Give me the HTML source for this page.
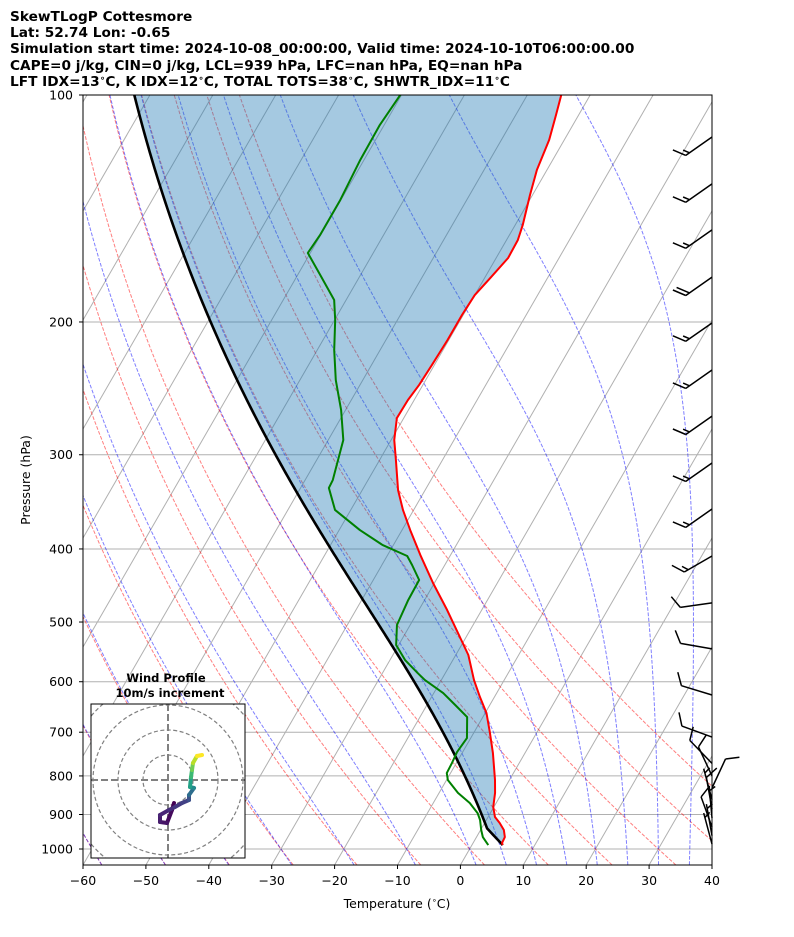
<!DOCTYPE html>
<html><head><meta charset="utf-8"><style>
body{margin:0;background:#fff;}
svg{display:block;font-family:"DejaVu Sans","Liberation Sans",sans-serif;}
</style></head><body>
<svg id="chart" width="794" height="937" viewBox="0 0 794 937" xmlns="http://www.w3.org/2000/svg">
<defs>
<clipPath id="plotclip"><rect x="83" y="95" width="629" height="770"/></clipPath>
<clipPath id="hodoclip"><rect x="91" y="704" width="154" height="154"/></clipPath>
</defs>
<rect width="794" height="937" fill="#fff"/>
<g font-weight="bold" font-size="13.7" fill="#000">
<text x="10" y="21">SkewTLogP Cottesmore</text>
<text x="10" y="37">Lat: 52.74   Lon: -0.65</text>
<text x="10" y="53">Simulation start time: 2024-10-08_00:00:00, Valid time: 2024-10-10T06:00:00.00</text>
<text x="10" y="70">CAPE=0 j/kg, CIN=0 j/kg, LCL=939 hPa, LFC=nan hPa, EQ=nan hPa</text>
<text x="10" y="86">LFT IDX=13<tspan font-size="9" dy="-5">∘</tspan><tspan dy="5">C, K IDX=12</tspan><tspan font-size="9" dy="-5">∘</tspan><tspan dy="5">C, TOTAL TOTS=38</tspan><tspan font-size="9" dy="-5">∘</tspan><tspan dy="5">C, SHWTR_IDX=11</tspan><tspan font-size="9" dy="-5">∘</tspan><tspan dy="5">C</tspan></text>
</g>
<g id="bg" clip-path="url(#plotclip)"></g>
<g id="fg" clip-path="url(#plotclip)"></g>
<rect x="83" y="95" width="629" height="770" fill="none" stroke="#000" stroke-width="1"/>
<g id="axes"></g>
<g id="barbs"></g>
<g id="hodo"></g>
<text x="30" y="480" font-size="12.5" text-anchor="middle" transform="rotate(-90 30 480)">Pressure (hPa)</text>
<text x="397" y="908" font-size="12.5" text-anchor="middle">Temperature (<tspan font-size="8" dy="-5">∘</tspan><tspan dy="5">C)</tspan></text>
</svg>
<script>
// ---- data ----
const tempP=[988,982,964.1,943.7,923.8,907,879.6,842.6,809.9,746,701.9,660.1,628.7,597,553,528.2,482,444,407.5,377.6,355.1,334.2,304.9,286.8,268.2,253.9,242.4,228.1,211.4,195.7,184.2,174.9,164.5,155.7,148.7,135.7,125.7,114.7,106.3,100];
const tempT=[4.9,4.6,4.5,3.7,2.4,1.1,-0.1,-1.1,-2.3,-5.1,-7.4,-9.8,-12.3,-14.8,-18.0,-20.5,-25.5,-30.2,-34.8,-38.7,-41.7,-44.3,-47.4,-49.5,-51.1,-51.0,-50.6,-50.4,-50.2,-50.2,-50.0,-49.1,-48.1,-48.2,-48.8,-50.4,-51.6,-52.4,-53.6,-54.6];
const dewP=[988,982,964.1,943.7,915.2,896.6,869,842.6,809.9,793,769.1,743.7,712.7,668.3,644.2,621.2,597,584.3,561.5,536.3,504.6,467.6,439.8,420.1,408.7,395.3,377.6,355.1,332,324.1,304.9,286.8,261.7,238.8,217.9,198.8,187,173.3,162,153.4,137.8,121.9,109.6,100];
const dewT=[2.6,2.2,1.0,0.1,-1.0,-2.0,-4.2,-7.0,-9.8,-10.6,-10.7,-10.9,-10.6,-12.5,-15.5,-18.5,-22.6,-24.4,-27.6,-30.4,-32.1,-32.6,-32.7,-35.2,-36.8,-41.7,-46.7,-52.5,-55.5,-55.6,-56.6,-57.6,-60.7,-64.3,-67.3,-69.9,-71.9,-76.4,-80.4,-80.1,-80.1,-80.6,-80.7,-80.2];
const parcelSurfP=988, parcelSurfT=4.9, lclP=939;
const pTicks=[100,200,300,400,500,600,700,800,900,1000];
const tTicks=[-60,-50,-40,-30,-20,-10,0,10,20,30,40];
const dryT0=[-60,-50,-40,-30,-20,-10,0,10,20,30,40,50];
const moistT0=[-60,-50,-40,-30,-20,-10,0,5,10,15,20,25,30,35];
const barbP=[113.7,131.2,151.0,174.4,200.6,231.6,266.6,307.7,354.1,408.7,471.7,542.8,624.9,710.5,770,800,830,860,885,910,935,960,985];
const barbDir=[235,235,235,235,235,235,235,235,235,240,262,280,287,290,316,335,25,345,350,355,340,350,345];
const barbSpd=[15,15,15,20,15,15,15,15,15,15,10,10,10,10,10,10,10,5,10,5,10,5,5];
const hodoU=[2.4,1.6,-0.4,-3.2,-3.2,0.4,2.8,5.6,8.4,8.4,10.4,8.8,9.2,9.6,10.0,11.6,13.6];
const hodoV=[-9.2,-12.0,-17.2,-16.8,-14.0,-12.0,-10.8,-9.2,-8.0,-6.0,-3.2,-2.8,1.2,4.0,6.8,9.6,10.0];

// ---- axis functions ----
const NS="http://www.w3.org/2000/svg";
const Y0=95,PX=754,BOT=865,X0=460.4,SX=6.29,SK=0.577;
function Y(p){return Y0+PX*Math.log10(p/100);}
function X(T,p){return X0+SX*T+SK*(BOT-Y(p));}
function mk(tag,attrs,parent){const e=document.createElementNS(NS,tag);for(const k in attrs)e.setAttribute(k,attrs[k]);parent.appendChild(e);return e;}
function path(pts){return pts.map((q,i)=>(i?'L':'M')+q[0].toFixed(2)+' '+q[1].toFixed(2)).join('');}
function moistDT(p,T){const Tc=T-273.15;const es=6.112*Math.exp(17.67*Tc/(Tc+243.5));const rs=0.622*es/(p-es);
 const Rd=287.04,Cp=1005.7,Lv=2.501e6,eps=0.622;return (Rd*T+Lv*rs)/(Cp+Lv*Lv*rs*eps/(Rd*T*T))/p;}
function moist(p0,T0K,p1,step){const out=[[p0,T0K]];let p=p0,T=T0K;
 while(Math.abs(p1-p)>1e-9){let h=(p1<p0?-step:step);if(Math.abs(p1-p)<step)h=p1-p;
 const k1=moistDT(p,T),k2=moistDT(p+h/2,T+h/2*k1),k3=moistDT(p+h/2,T+h/2*k2),k4=moistDT(p+h,T+h*k3);
 T+=h/6*(k1+2*k2+2*k3+k4);p+=h;out.push([p,T]);}return out;}

const bg=document.getElementById('bg'),fg=document.getElementById('fg'),ax=document.getElementById('axes');
pTicks.forEach(p=>{const l=mk('line',{x1:83,x2:712,y1:Y(p),y2:Y(p),stroke:'#b0b0b0','stroke-width':1},bg);

});
for(let T=-170;T<=40;T+=10){const l=mk('line',{x1:X0+SX*T,y1:BOT,x2:X0+SX*T+SK*(BOT-Y0),y2:Y0,stroke:'#b0b0b0','stroke-width':1},bg);

}
const pGrid=[];for(let p=1050;p>=100;p-=10)pGrid.push(p);
dryT0.forEach(t0=>{const th=t0+273.15;const pts=pGrid.map(p=>[X(th*Math.pow(p/1000,0.2857)-273.15,p),Y(p)]);
const e=mk('path',{d:path(pts),fill:'none',stroke:'rgba(255,0,0,0.5)','stroke-width':1,'stroke-dasharray':'3.7 1.6'},bg);

});
moistT0.forEach(t0=>{const up=moist(1000,t0+273.15,100,5),dn=moist(1000,t0+273.15,1050,5);
const pts=dn.reverse().concat(up.slice(1)).map(q=>[X(q[1]-273.15,q[0]),Y(q[0])]);
const e=mk('path',{d:path(pts),fill:'none',stroke:'rgba(0,0,255,0.5)','stroke-width':1,'stroke-dasharray':'3.7 1.6'},bg);

});
const parcel=[];for(let p=parcelSurfP;p>lclP;p-=5)parcel.push([p,(parcelSurfT+273.15)*Math.pow(p/parcelSurfP,0.2857)]);
const Tl=(parcelSurfT+273.15)*Math.pow(lclP/parcelSurfP,0.2857);
moist(lclP,Tl,100,2).forEach(q=>parcel.push(q));
const parcelPts=parcel.map(q=>[X(q[1]-273.15,q[0]),Y(q[0])]);
const tempPts=tempP.map((p,i)=>[X(tempT[i],p),Y(p)]);
const dewPts=dewP.map((p,i)=>[X(dewT[i],p),Y(p)]);
const fill=mk('path',{d:path(tempPts.concat(parcelPts.slice().reverse()))+'Z',fill:'rgba(31,119,180,0.4)',stroke:'none'},fg);


const pl=mk('path',{d:path(parcelPts),fill:'none',stroke:'#000','stroke-width':2.6},fg);


const tl=mk('path',{d:path(tempPts),fill:'none',stroke:'#ff0000','stroke-width':2,'stroke-linejoin':'round'},fg);


const dl=mk('path',{d:path(dewPts),fill:'none',stroke:'#008000','stroke-width':2,'stroke-linejoin':'round'},fg);


pTicks.forEach(p=>{mk('line',{x1:79,x2:83,y1:Y(p),y2:Y(p),stroke:'#000'},ax);
const t=mk('text',{x:73,y:Y(p)+4.5,'font-size':12.5,'text-anchor':'end'},ax);t.textContent=p;

});
tTicks.forEach(T=>{const x=X0+SX*T;mk('line',{x1:x,x2:x,y1:865,y2:869,stroke:'#000'},ax);
const t=mk('text',{x:x,y:885,'font-size':12.5,'text-anchor':'middle'},ax);t.textContent=(T<0?'\u2212'+(-T):T);

});
const bgp=document.getElementById('barbs');
barbP.forEach((p,i)=>{const ay=Y(p),axx=712,L=32,th=barbDir[i]*Math.PI/180;
const d=[Math.sin(th),-Math.cos(th)];const perp=[-d[1],d[0]];
const f=[perp[0]*0.8+d[0]*0.5,perp[1]*0.8+d[1]*0.5];const fn=Math.hypot(f[0],f[1]);f[0]/=fn;f[1]/=fn;
const ex=axx+L*d[0],ey=ay+L*d[1];let s='M'+axx+' '+ay.toFixed(1)+'L'+ex.toFixed(1)+' '+ey.toFixed(1);
let spd=barbSpd[i],k=0;while(spd>=10){const bx=ex-d[0]*4.5*k,by=ey-d[1]*4.5*k;s+='M'+bx.toFixed(1)+' '+by.toFixed(1)+'l'+(f[0]*14).toFixed(1)+' '+(f[1]*14).toFixed(1);spd-=10;k++;}
if(spd>=5){if(k===0)k=1;const bx=ex-d[0]*4.5*k,by=ey-d[1]*4.5*k;s+='M'+bx.toFixed(1)+' '+by.toFixed(1)+'l'+(f[0]*7).toFixed(1)+' '+(f[1]*7).toFixed(1);}
const e=mk('path',{d:s,fill:'none',stroke:'#000','stroke-width':1.5},bgp);

});
const hg=document.getElementById('hodo'),HC=[168,780],HS=2.5;
mk('rect',{x:91,y:704,width:154,height:154,fill:'#fff'},hg);
const hc=mk('g',{'clip-path':'url(#hodoclip)'},hg);
[25,50,75,100].forEach(r=>{const c=mk('circle',{cx:HC[0],cy:HC[1],r:r,fill:'none',stroke:'#808080','stroke-width':1.2,'stroke-dasharray':'4 2.5'},hc);

});
mk('line',{x1:91,x2:245,y1:HC[1],y2:HC[1],stroke:'#808080','stroke-width':2,'stroke-dasharray':'7 3'},hc);
mk('line',{x1:HC[0],x2:HC[0],y1:704,y2:858,stroke:'#808080','stroke-width':2,'stroke-dasharray':'7 3'},hc);
const vir=[[68,1,84],[72,36,117],[65,68,135],[53,95,141],[42,120,142],[33,145,140],[34,168,132],[68,191,112],[122,209,81],[189,223,38],[253,231,37]];
function vcol(t){const s=t*(vir.length-1),i=Math.min(Math.floor(s),vir.length-2),f=s-i;const c=vir[i].map((v,j)=>Math.round(v+(vir[i+1][j]-v)*f));return 'rgb('+c.join(',')+')';}
const n=hodoU.length;
for(let i=0;i<n-1;i++){const t=i/(n-2);const ln=mk('line',{x1:HC[0]+hodoU[i]*HS,y1:HC[1]-hodoV[i]*HS,x2:HC[0]+hodoU[i+1]*HS,y2:HC[1]-hodoV[i+1]*HS,stroke:vcol(t<0.5?t*0.4:0.2+(t-0.5)*1.6),'stroke-width':4,'stroke-linecap':'round'},hc);

}
const hb=mk('rect',{x:91,y:704,width:154,height:154,fill:'none',stroke:'#000','stroke-width':1},hg);


const t1=mk('text',{x:166,y:682,'font-size':11.5,'font-weight':'bold','text-anchor':'middle'},hg);t1.textContent='Wind Profile';


const t2=mk('text',{x:170,y:697,'font-size':11.5,'font-weight':'bold','text-anchor':'middle'},hg);t2.textContent='10m/s increment';


</script>
</body></html>
